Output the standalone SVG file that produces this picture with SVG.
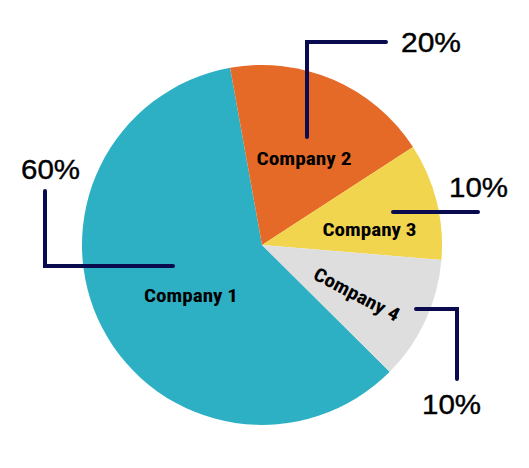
<svg xmlns="http://www.w3.org/2000/svg" width="529" height="468" viewBox="0 0 529 468">
<style>
.lbl{font-family:"Liberation Sans Narrow","Roboto Condensed","Liberation Sans",Arial,sans-serif;font-weight:bold;font-size:19px;fill:#000;}
.pct{font-family:"Liberation Sans",Arial,sans-serif;font-size:28px;fill:#000;stroke:#000;stroke-width:0.4;}
.lead{fill:none;stroke:#0a0a4e;stroke-width:4;stroke-linecap:round;stroke-linejoin:miter;}
</style>
<rect width="529" height="468" fill="#fff"/>
<g id="company1">
<path d="M262,245 L389.7,371.8 A180,180 0 1 1 230.1,67.8 Z" fill="#2db0c4"/>
<text class="lbl" x="191" y="301.5" text-anchor="middle" textLength="94" lengthAdjust="spacingAndGlyphs">Company 1</text>
</g>
<g id="company2">
<path d="M262,245 L230.1,67.8 A180,180 0 0 1 413,147 Z" fill="#e56a27"/>
<text class="lbl" x="304" y="164.5" text-anchor="middle" textLength="95" lengthAdjust="spacingAndGlyphs">Company 2</text>
</g>
<g id="company3">
<path d="M262,245 L413,147 A180,180 0 0 1 441.4,259.9 Z" fill="#f2d54e"/>
<text class="lbl" x="369.5" y="236" text-anchor="middle" textLength="94" lengthAdjust="spacingAndGlyphs">Company 3</text>
</g>
<g id="company4">
<path d="M262,245 L441.4,259.9 A180,180 0 0 1 389.7,371.8 Z" fill="#dedede"/>
<text class="lbl" transform="translate(357,294) rotate(27.5)" x="0" y="7" text-anchor="middle" textLength="94" lengthAdjust="spacingAndGlyphs">Company 4</text>
</g>
<g id="connectors">
<polyline class="lead" points="307,137 307,42 386,42"/>
<polyline class="lead" points="393,212 478,212"/>
<polyline class="lead" points="416,309 457,309 457,379"/>
<polyline class="lead" points="173,266 45,266 45,191"/>
</g>
<g id="percentages">
<text class="pct" x="401" y="52" textLength="60" lengthAdjust="spacingAndGlyphs">20%</text>
<text class="pct" x="449" y="197" textLength="59" lengthAdjust="spacingAndGlyphs">10%</text>
<text class="pct" x="422" y="414" textLength="59" lengthAdjust="spacingAndGlyphs">10%</text>
<text class="pct" x="21" y="179" textLength="59" lengthAdjust="spacingAndGlyphs">60%</text>
</g>
</svg>
